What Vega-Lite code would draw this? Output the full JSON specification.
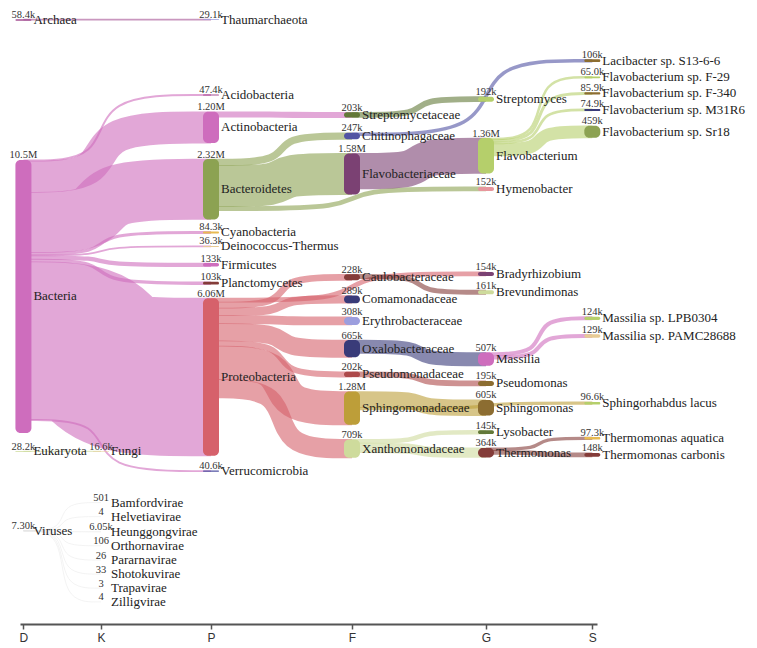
{
  "$schema": "https://vega.github.io/schema/vega-lite/v6.json",
  "width": 757,
  "height": 624,
  "autosize": "none",
  "padding": {"left": 0, "top": 0, "right": 0, "bottom": 24},
  "background": "white",
  "config": {"view": {"stroke": null}},
  "datasets": {
    "nodes": [
      {"name": "Archaea", "level": 0, "top": 0.74, "reads": 58400},
      {"name": "Bacteria", "level": 0, "top": 6.15, "reads": 10500000},
      {"name": "Eukaryota", "level": 0, "top": 17.35, "reads": 28200},
      {"name": "Viruses", "level": 0, "top": 20.41, "reads": 7300},
      {"name": "Fungi", "level": 1, "top": 17.35, "reads": 16600},
      {"name": "Bamfordvirae", "level": 1, "top": 19.33, "reads": 501},
      {"name": "Helvetiavirae", "level": 1, "top": 19.87, "reads": 4},
      {"name": "Heunggongvirae", "level": 1, "top": 20.45, "reads": 6050},
      {"name": "Orthornavirae", "level": 1, "top": 20.99, "reads": 106},
      {"name": "Pararnavirae", "level": 1, "top": 21.54, "reads": 26},
      {"name": "Shotokuvirae", "level": 1, "top": 22.08, "reads": 33},
      {"name": "Trapavirae", "level": 1, "top": 22.62, "reads": 3},
      {"name": "Zilligvirae", "level": 1, "top": 23.15, "reads": 4},
      {"name": "Thaumarchaeota", "level": 2, "top": 0.74, "reads": 29100},
      {"name": "Acidobacteria", "level": 2, "top": 3.63, "reads": 47400},
      {"name": "Actinobacteria", "level": 2, "top": 4.3, "reads": 1200000},
      {"name": "Bacteroidetes", "level": 2, "top": 6.12, "reads": 2320000},
      {"name": "Cyanobacteria", "level": 2, "top": 8.9, "reads": 84300},
      {"name": "Deinococcus-Thermus", "level": 2, "top": 9.46, "reads": 36300},
      {"name": "Firmicutes", "level": 2, "top": 10.12, "reads": 133000},
      {"name": "Planctomycetes", "level": 2, "top": 10.84, "reads": 103000},
      {"name": "Proteobacteria", "level": 2, "top": 11.47, "reads": 6060000},
      {"name": "Verrucomicrobia", "level": 2, "top": 18.1, "reads": 40600},
      {"name": "Streptomycetaceae", "level": 3, "top": 4.32, "reads": 203000},
      {"name": "Chitinophagaceae", "level": 3, "top": 5.11, "reads": 247000},
      {"name": "Flavobacteriaceae", "level": 3, "top": 5.9, "reads": 1580000},
      {"name": "Caulobacteraceae", "level": 3, "top": 10.55, "reads": 228000},
      {"name": "Comamonadaceae", "level": 3, "top": 11.37, "reads": 289000},
      {"name": "Erythrobacteraceae", "level": 3, "top": 12.19, "reads": 308000},
      {"name": "Oxalobacteraceae", "level": 3, "top": 13.08, "reads": 665000},
      {"name": "Pseudomonadaceae", "level": 3, "top": 14.3, "reads": 202000},
      {"name": "Sphingomonadaceae", "level": 3, "top": 15.06, "reads": 1280000},
      {"name": "Xanthomonadaceae", "level": 3, "top": 16.9, "reads": 709000},
      {"name": "Streptomyces", "level": 4, "top": 3.72, "reads": 192000},
      {"name": "Flavobacterium", "level": 4, "top": 5.31, "reads": 1360000},
      {"name": "Hymenobacter", "level": 4, "top": 7.19, "reads": 152000},
      {"name": "Bradyrhizobium", "level": 4, "top": 10.46, "reads": 154000},
      {"name": "Brevundimonas", "level": 4, "top": 11.16, "reads": 161000},
      {"name": "Massilia", "level": 4, "top": 13.56, "reads": 507000},
      {"name": "Pseudomonas", "level": 4, "top": 14.65, "reads": 195000},
      {"name": "Sphingomonas", "level": 4, "top": 15.38, "reads": 605000},
      {"name": "Lysobacter", "level": 4, "top": 16.55, "reads": 145000},
      {"name": "Thermomonas", "level": 4, "top": 17.23, "reads": 364000},
      {"name": "Lacibacter sp. S13-6-6", "level": 5, "top": 2.28, "reads": 106000},
      {"name": "Flavobacterium sp. F-29", "level": 5, "top": 2.94, "reads": 65000},
      {"name": "Flavobacterium sp. F-340", "level": 5, "top": 3.55, "reads": 85900},
      {"name": "Flavobacterium sp. M31R6", "level": 5, "top": 4.19, "reads": 74900},
      {"name": "Flavobacterium sp. Sr18", "level": 5, "top": 4.84, "reads": 459000},
      {"name": "Massilia sp. LPB0304", "level": 5, "top": 12.18, "reads": 124000},
      {"name": "Massilia sp. PAMC28688", "level": 5, "top": 12.86, "reads": 129000},
      {"name": "Sphingorhabdus lacus", "level": 5, "top": 15.46, "reads": 96600},
      {"name": "Thermomonas aquatica", "level": 5, "top": 16.81, "reads": 97300},
      {"name": "Thermomonas carbonis", "level": 5, "top": 17.42, "reads": 148000}
    ],
    "links": [
      {"source": "Archaea", "target": "Thaumarchaeota"},
      {"source": "Bacteria", "target": "Acidobacteria"},
      {"source": "Bacteria", "target": "Actinobacteria"},
      {"source": "Bacteria", "target": "Bacteroidetes"},
      {"source": "Bacteria", "target": "Cyanobacteria"},
      {"source": "Bacteria", "target": "Deinococcus-Thermus"},
      {"source": "Bacteria", "target": "Firmicutes"},
      {"source": "Bacteria", "target": "Planctomycetes"},
      {"source": "Bacteria", "target": "Proteobacteria"},
      {"source": "Bacteria", "target": "Verrucomicrobia"},
      {"source": "Eukaryota", "target": "Fungi"},
      {"source": "Viruses", "target": "Bamfordvirae"},
      {"source": "Viruses", "target": "Helvetiavirae"},
      {"source": "Viruses", "target": "Heunggongvirae"},
      {"source": "Viruses", "target": "Orthornavirae"},
      {"source": "Viruses", "target": "Pararnavirae"},
      {"source": "Viruses", "target": "Shotokuvirae"},
      {"source": "Viruses", "target": "Trapavirae"},
      {"source": "Viruses", "target": "Zilligvirae"},
      {"source": "Actinobacteria", "target": "Streptomycetaceae"},
      {"source": "Bacteroidetes", "target": "Chitinophagaceae"},
      {"source": "Bacteroidetes", "target": "Flavobacteriaceae"},
      {"source": "Bacteroidetes", "target": "Hymenobacter"},
      {"source": "Proteobacteria", "target": "Bradyrhizobium"},
      {"source": "Proteobacteria", "target": "Caulobacteraceae"},
      {"source": "Proteobacteria", "target": "Comamonadaceae"},
      {"source": "Proteobacteria", "target": "Erythrobacteraceae"},
      {"source": "Proteobacteria", "target": "Oxalobacteraceae"},
      {"source": "Proteobacteria", "target": "Pseudomonadaceae"},
      {"source": "Proteobacteria", "target": "Sphingomonadaceae"},
      {"source": "Proteobacteria", "target": "Xanthomonadaceae"},
      {"source": "Streptomycetaceae", "target": "Streptomyces"},
      {"source": "Chitinophagaceae", "target": "Lacibacter sp. S13-6-6"},
      {"source": "Flavobacteriaceae", "target": "Flavobacterium"},
      {"source": "Caulobacteraceae", "target": "Brevundimonas"},
      {"source": "Oxalobacteraceae", "target": "Massilia"},
      {"source": "Pseudomonadaceae", "target": "Pseudomonas"},
      {"source": "Sphingomonadaceae", "target": "Sphingomonas"},
      {"source": "Sphingomonadaceae", "target": "Sphingorhabdus lacus"},
      {"source": "Xanthomonadaceae", "target": "Lysobacter"},
      {"source": "Xanthomonadaceae", "target": "Thermomonas"},
      {"source": "Flavobacterium", "target": "Flavobacterium sp. F-29"},
      {"source": "Flavobacterium", "target": "Flavobacterium sp. F-340"},
      {"source": "Flavobacterium", "target": "Flavobacterium sp. M31R6"},
      {"source": "Flavobacterium", "target": "Flavobacterium sp. Sr18"},
      {"source": "Massilia", "target": "Massilia sp. LPB0304"},
      {"source": "Massilia", "target": "Massilia sp. PAMC28688"},
      {"source": "Thermomonas", "target": "Thermomonas aquatica"},
      {"source": "Thermomonas", "target": "Thermomonas carbonis"}
    ]
  },
  "layer": [
    {
      "data": {"name": "links"},
      "transform": [
        {"lookup": "source", "from": {"data": {"name": "nodes"}, "key": "name", "fields": ["level", "top"]}, "as": ["sl", "st"]},
        {"lookup": "target", "from": {"data": {"name": "nodes"}, "key": "name", "fields": ["level", "top", "reads"]}, "as": ["tl", "tt", "reads"]},
        {"calculate": "datum.reads / 1e6", "as": "v"},
        {"window": [{"op": "sum", "field": "v", "as": "cum"}], "groupby": ["source"], "sort": [{"field": "tt", "order": "ascending"}], "frame": [null, 0]},
        {"calculate": "datum.st + datum.cum - datum.v / 2", "as": "ys"},
        {"calculate": "datum.tt + datum.v / 2", "as": "yt"},
        {"calculate": "[0, 1, 2, 3]", "as": "pt"},
        {"flatten": ["pt"]},
        {"calculate": "datum.pt == 0 ? datum.sl : (datum.pt == 3 ? datum.tl : (datum.sl + datum.tl) / 2)", "as": "px"},
        {"calculate": "datum.pt < 2 ? datum.ys : datum.yt", "as": "py"}
      ],
      "mark": {"type": "line", "interpolate": "basis", "opacity": 0.6, "strokeCap": "butt"},
      "encoding": {
        "x": {
          "field": "px", "type": "quantitative",
          "scale": {"domain": [0, 1, 2, 3, 4, 5], "range": [20, 101, 211, 352, 486, 597], "zero": false, "nice": false},
          "axis": {
            "values": [0, 1, 2, 3, 4, 5],
            "labelExpr": "['D','K','P','F','G','S'][datum.value]",
            "title": null, "grid": false,
            "domainColor": "#555", "domainWidth": 1.8,
            "tickColor": "#555", "tickWidth": 1.5, "tickSize": 5,
            "labelFont": "Liberation Sans", "labelFontSize": 12, "labelColor": "#333", "labelPadding": 3
          }
        },
        "y": {"field": "py", "type": "quantitative", "scale": {"domain": [0, 24], "reverse": true, "zero": false, "nice": false}, "axis": null},
        "color": {"field": "source", "type": "nominal", "legend": null},
        "strokeWidth": {"field": "v", "type": "quantitative", "scale": {"type": "linear", "domain": [0, 10], "range": [0.8, 260.8], "zero": false}, "legend": null},
        "detail": {"field": "target"},
        "order": {"field": "pt", "type": "quantitative"}
      }
    },
    {
      "data": {"name": "nodes"},
      "transform": [
        {"calculate": "datum.reads / 1e6", "as": "v"},
        {"calculate": "datum.top + datum.v", "as": "bot"}
      ],
      "mark": {"type": "bar", "width": 16, "cornerRadius": 5},
      "encoding": {
        "x": {"field": "level", "type": "quantitative"},
        "y": {"field": "top", "type": "quantitative"},
        "y2": {"field": "bot"},
        "color": {"field": "name", "type": "nominal", "legend": null}
      }
    },
    {
      "data": {"name": "nodes"},
      "transform": [
        {"calculate": "datum.reads < 1000 ? format(datum.reads, 'd') : format(datum.reads, '.3s')", "as": "lab"}
      ],
      "mark": {"type": "text", "align": "center", "baseline": "alphabetic", "dy": -1.5, "font": "Liberation Serif", "fontSize": 10.5, "fill": "#333"},
      "encoding": {
        "x": {"field": "level", "type": "quantitative"},
        "y": {"field": "top", "type": "quantitative"},
        "text": {"field": "lab"}
      }
    },
    {
      "data": {"name": "nodes"},
      "transform": [
        {"calculate": "datum.top + datum.reads / 2e6", "as": "mid"}
      ],
      "mark": {"type": "text", "align": "left", "baseline": "middle", "dx": 10, "font": "Liberation Serif", "fontSize": 13, "fill": "#222"},
      "encoding": {
        "x": {"field": "level", "type": "quantitative"},
        "y": {"field": "mid", "type": "quantitative"},
        "text": {"field": "name"}
      }
    }
  ],
  "resolve": {"scale": {"color": "shared"}},
  "encoding": {
    "color": {
      "scale": {
        "domain": ["Archaea", "Bacteria", "Eukaryota", "Viruses", "Fungi", "Bamfordvirae", "Helvetiavirae", "Heunggongvirae", "Orthornavirae", "Pararnavirae", "Shotokuvirae", "Trapavirae", "Zilligvirae", "Thaumarchaeota", "Acidobacteria", "Actinobacteria", "Bacteroidetes", "Cyanobacteria", "Deinococcus-Thermus", "Firmicutes", "Planctomycetes", "Proteobacteria", "Verrucomicrobia", "Streptomycetaceae", "Chitinophagaceae", "Flavobacteriaceae", "Caulobacteraceae", "Comamonadaceae", "Erythrobacteraceae", "Oxalobacteraceae", "Pseudomonadaceae", "Sphingomonadaceae", "Xanthomonadaceae", "Streptomyces", "Flavobacterium", "Hymenobacter", "Bradyrhizobium", "Brevundimonas", "Massilia", "Pseudomonas", "Sphingomonas", "Lysobacter", "Thermomonas", "Lacibacter sp. S13-6-6", "Flavobacterium sp. F-29", "Flavobacterium sp. F-340", "Flavobacterium sp. M31R6", "Flavobacterium sp. Sr18", "Massilia sp. LPB0304", "Massilia sp. PAMC28688", "Sphingorhabdus lacus", "Thermomonas aquatica", "Thermomonas carbonis"],
        "range": ["#a55194", "#ce6dbd", "#cedb9c", "#e6e6e6", "#e7cb94", "#e6e6e6", "#e6e6e6", "#e6e6e6", "#e6e6e6", "#e6e6e6", "#e6e6e6", "#e6e6e6", "#e6e6e6", "#9c9ede", "#a55194", "#ce6dbd", "#8ca252", "#e7ba52", "#e7cb94", "#ce6dbd", "#843c39", "#d6616b", "#5254a3", "#637939", "#5254a3", "#7b4173", "#843c39", "#393b79", "#9c9ede", "#393b79", "#ad494a", "#bd9e39", "#cedb9c", "#b5cf6b", "#b5cf6b", "#e7969c", "#7b4173", "#cedb9c", "#ce6dbd", "#8c6d31", "#8c6d31", "#637939", "#843c39", "#8c6d31", "#b5cf6b", "#8c6d31", "#393b79", "#8ca252", "#b5cf6b", "#e7cb94", "#b5cf6b", "#e7ba52", "#843c39"]
      }
    }
  }
}
